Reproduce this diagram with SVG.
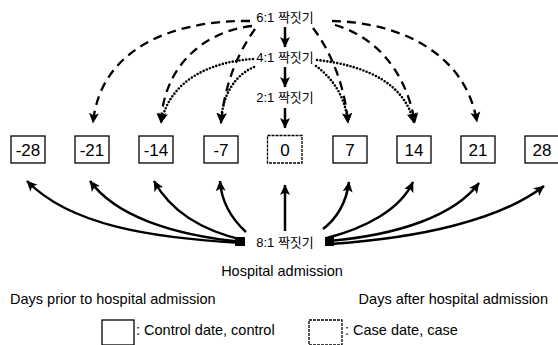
<svg xmlns="http://www.w3.org/2000/svg" width="558" height="345" viewBox="0 0 558 345">
<style>
text{font-family:"Liberation Sans","Noto Sans CJK KR",sans-serif;fill:#000}
.lbl{font-size:13px;text-anchor:middle;stroke:#fff;stroke-width:3px;paint-order:stroke;stroke-linejoin:round}
.num{font-size:17px;text-anchor:middle}
.cap{font-size:14.5px}
.box{fill:#fff;stroke:#000;stroke-width:1.3}
.case{fill:#fff;stroke:#000;stroke-width:1.3;stroke-dasharray:3 1}
.dash{fill:none;stroke:#000;stroke-width:2.3;stroke-dasharray:9 6;marker-end:url(#ah)}
.dot{fill:none;stroke:#000;stroke-width:2.6;stroke-dasharray:0 3.4;stroke-linecap:round;marker-end:url(#ah)}
.sol{fill:none;stroke:#000;stroke-width:2.5;marker-end:url(#ah)}
.hd{fill:#000;stroke:none}
</style>
<defs>
<marker id="ah" markerUnits="userSpaceOnUse" markerWidth="12" markerHeight="12" refX="10" refY="5" orient="auto" viewBox="0 0 12 10">
<path class="hd" d="M0,0 L10.5,5 L0,10 L2.5,5 Z"/>
</marker>
</defs>

<g id="connectors">
<path class="sol" d="M285,27 L285,47"/>
<path class="sol" d="M285,67 L285,87"/>
<path class="sol" d="M285,108 L285,128"/>

<path class="dash" d="M250,21 C170,20 100,50 93,123"/>
<path class="dash" d="M252,26 C200,32 163,70 161,123"/>
<path class="dash" d="M255,29 C240,50 225,80 221,123"/>
<path class="dash" d="M332,21 C395,22 465,50 477,122"/>
<path class="dash" d="M335,25 C370,35 405,65 415,123"/>
<path class="dash" d="M313,28 C330,50 345,85 348,123"/>

<path class="dot" d="M253,59 C210,62 170,80 161,123"/>
<path class="dot" d="M254,67 C235,75 222,95 221,123"/>
<path class="dot" d="M317,60 C370,66 405,85 414,123"/>
<path class="dot" d="M316,66 C335,80 346,100 348,123"/>

<rect class="hd" x="235" y="237" width="10" height="9"/>
<rect class="hd" x="325" y="237" width="9" height="9"/>
<path class="sol" d="M243,243 C150,238 70,225 27,181"/>
<path class="sol" d="M243,242 C170,235 115,215 90,181"/>
<path class="sol" d="M243,240 C200,230 170,210 154,181"/>
<path class="sol" d="M246,232 Q222,210 220,181"/>
<path class="sol" d="M285,231 L285,185"/>
<path class="sol" d="M323,229 Q345,212 349,182"/>
<path class="sol" d="M327,238 C365,228 400,210 413,182"/>
<path class="sol" d="M328,241 C400,235 455,215 479,183"/>
<path class="sol" d="M330,244 C420,238 500,220 544,186"/>
</g>

<g id="n6"><text class="lbl" x="285" y="22">6:1 짝짓기</text></g>
<g id="n4"><text class="lbl" x="285" y="62">4:1 짝짓기</text></g>
<g id="n2"><text class="lbl" x="285" y="102">2:1 짝짓기</text></g>
<g id="n8"><text class="lbl" x="285" y="247">8:1 짝짓기</text></g>

<g id="bm28"><rect class="box" x="11" y="136" width="34" height="27"/><text class="num" x="28" y="156">-28</text></g>
<g id="bm21"><rect class="box" x="75" y="136" width="34" height="27"/><text class="num" x="92" y="156">-21</text></g>
<g id="bm14"><rect class="box" x="139" y="136" width="34" height="27"/><text class="num" x="156" y="156">-14</text></g>
<g id="bm7"><rect class="box" x="204" y="136" width="34" height="27"/><text class="num" x="221" y="156">-7</text></g>
<g id="b0"><rect class="case" x="267.5" y="135.5" width="34.5" height="27.5"/><text class="num" x="285" y="156">0</text></g>
<g id="b7"><rect class="box" x="333" y="136" width="34" height="27"/><text class="num" x="350" y="156">7</text></g>
<g id="b14"><rect class="box" x="397" y="136" width="34" height="27"/><text class="num" x="414" y="156">14</text></g>
<g id="b21"><rect class="box" x="461" y="136" width="34" height="27"/><text class="num" x="478" y="156">21</text></g>
<g id="b28"><rect class="box" x="525" y="136" width="34" height="27"/><text class="num" x="542" y="156">28</text></g>

<g id="captions">
<text class="cap" x="282" y="276" text-anchor="middle">Hospital admission</text>
<text class="cap" x="10" y="304">Days prior to hospital admission</text>
<text class="cap" x="548" y="304" text-anchor="end">Days after hospital admission</text>
</g>
<g id="legend">
<rect class="box" x="102" y="320" width="32" height="25"/>
<text class="cap" x="136" y="335">: Control date, control</text>
<rect class="case" x="309" y="320" width="33" height="25"/>
<text class="cap" x="345" y="335">: Case date, case</text>
</g>
</svg>
